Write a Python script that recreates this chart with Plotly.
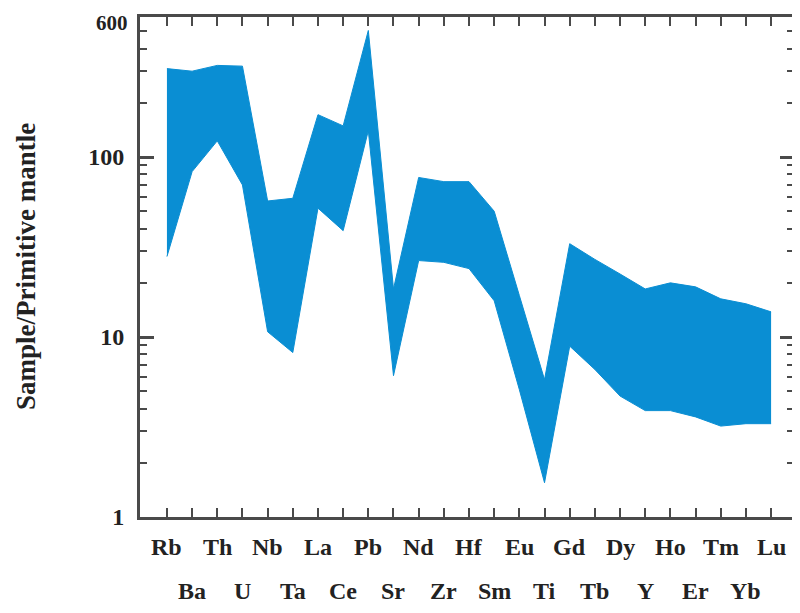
import math
import plotly.graph_objects as go

elements = ["Rb", "Ba", "Th", "U", "Nb", "Ta", "La", "Ce", "Pb", "Sr", "Nd", "Zr", "Hf",
            "Sm", "Eu", "Ti", "Gd", "Tb", "Dy", "Y", "Ho", "Er", "Tm", "Yb", "Lu"]
upper = [310, 300, 323, 320, 57, 59, 172, 149, 505, 18.5, 77, 73, 73,
         50, 17, 5.8, 33, 27, 22.4, 18.5, 20, 19, 16.3, 15.3, 13.8]
lower = [28, 83, 123, 70, 10.7, 8.2, 52, 39, 140, 6.1, 26.6, 26, 24,
         15.9, 5.1, 1.55, 8.9, 6.6, 4.7, 3.9, 3.9, 3.6, 3.2, 3.3, 3.3]
y_tickvals = [1, 10, 100]
y_ticktext = ["1", "10", "100"]
y_top_value = 600
y_top_text = "600"
y_minor = [2, 3, 4, 5, 6, 7, 8, 9, 20, 30, 40, 50, 60, 70, 80, 90, 200, 300, 400, 500]
y_title = "Sample/Primitive mantle"

blue = "#0A8ED3"
axis_col = "#4a4a4a"
text_col = "#222"
font_serif = "Liberation Serif"

fig = go.Figure()
fig.add_trace(go.Scatter(x=elements, y=lower, mode="lines",
                         line=dict(color=blue, width=1), showlegend=False, hoverinfo="skip"))
fig.add_trace(go.Scatter(x=elements, y=upper, mode="lines", fill="tonexty",
                         fillcolor=blue, line=dict(color=blue, width=1), showlegend=False))

annotations = []
for i, el in enumerate(elements):
    annotations.append(dict(x=el, y=0, xref="x", yref="paper", text=el,
                            showarrow=False, yanchor="top", xanchor="center",
                            yshift=-15 if i % 2 == 0 else -59,
                            font=dict(family=font_serif, size=24, color=text_col, weight="bold")))
annotations.append(dict(x=0, y=0.5, xref="paper", yref="paper", text=y_title,
                        textangle=-90, showarrow=False, xanchor="center", yanchor="middle",
                        xshift=-114,
                        font=dict(family=font_serif, size=27, color=text_col, weight="bold")))
annotations.append(dict(x=0, y=math.log10(y_top_value), xref="paper", yref="y",
                        text=y_top_text, showarrow=False, xanchor="right", yanchor="top",
                        xshift=-10, yshift=8,
                        font=dict(family=font_serif, size=21, color=text_col, weight="bold")))

fig.update_layout(
    width=792, height=597,
    margin=dict(l=132, r=3, t=9, b=88),
    paper_bgcolor="white", plot_bgcolor="white",
    annotations=annotations,
    xaxis=dict(type="category", range=[-1.07, 24.91], showticklabels=False,
               ticks="inside", ticklen=9, tickwidth=2, tickcolor=axis_col,
               showline=True, linewidth=3, linecolor=axis_col, mirror="ticks",
               showgrid=False, zeroline=False),
    yaxis=dict(type="log", range=[0, math.log10(y_top_value)], tickmode="array",
               tickvals=y_tickvals, ticktext=y_ticktext,
               ticks="inside", ticklen=14, tickwidth=3, tickcolor=axis_col,
               minor=dict(tickmode="array", tickvals=y_minor, ticks="inside",
                          ticklen=7, tickwidth=2, tickcolor=axis_col, showgrid=False),
               showline=True, linewidth=3, linecolor=axis_col, mirror="ticks",
               showgrid=False, zeroline=False, ticklabelstandoff=8,
               tickfont=dict(family=font_serif, size=24, color=text_col, weight="bold")),
)

fig.write_html("out.html")
